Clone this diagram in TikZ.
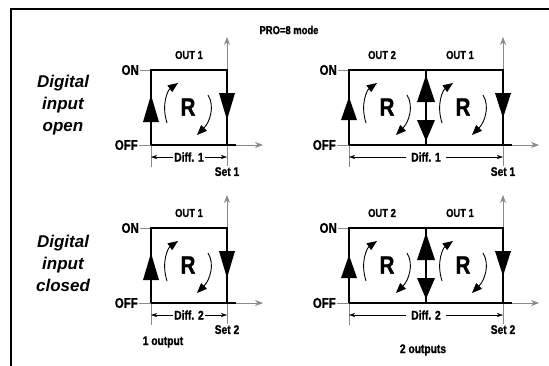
\documentclass[tikz,border=0pt]{standalone}
\usepackage{fontspec}
\setmainfont{Liberation Sans}
\newfontfamily\condfont{Liberation Sans}[FakeStretch=0.82,FakeBold=1.2]
\usetikzlibrary{arrows.meta}
\definecolor{axisgrey}{HTML}{8A8A8A}

\begin{document}
\begin{tikzpicture}[x=1pt,y=-1pt,
  lbl/.style={font=\condfont\bfseries\fontsize{12.5}{13}\selectfont,inner sep=1pt},
  lvl/.style={font=\condfont\bfseries\fontsize{14}{14}\selectfont,anchor=east,inner sep=1pt},
  outlbl/.style={font=\condfont\bfseries\fontsize{11.5}{12}\selectfont},
  rlbl/.style={font=\condfont\bfseries\fontsize{25}{25}\selectfont,inner sep=0pt},
  sidelbl/.style={font=\bfseries\itshape\fontsize{17}{22}\selectfont,align=center},
  axis/.style={axisgrey,line width=0.8pt},
  axarr/.style={axis,-{Stealth[length=8pt,width=6pt]}},
  relay/.style={line width=2.5pt},
  diffarr/.style={thin,-{Stealth[length=6pt,width=4pt]}},
  turn/.style={line width=0.9pt,-{Triangle[length=10pt,width=8pt]}}
]
\useasboundingbox (0,0) rectangle (549,365);

% Frame
\draw[line width=2pt] (11,366) -- (11,9) -- (550,9);
\node[outlbl] (mode) at (289,30) {PRO=8 mode};

% Two rows: input open / input closed
\foreach \dy/\st/\n in {0/open/1,158/closed/2}{
\begin{scope}[yshift=-\dy pt]
  \node[sidelbl] (side\n) at (63,105) {Digital\\input\\\st};

  % --- one output ---
  \node[lvl] (ona\n) at (140,70) {ON};
  \node[lvl] (offa\n) at (139,145) {OFF};
  \draw[axis] (ona\n.east) -- (151,70);
  \draw[axarr] (offa\n.east) -- (263,145);
  \draw[axis] (151,145) -- (151,167);
  \node[lbl,anchor=north] (seta\n) at (227,166) {Set \n};
  \draw[axarr] (seta\n.north) -- (227,37);
  \draw[relay] (151,145) -- (151,70) -- (227,70) -- (227,145);
  \draw[relay] (151,145) -- (236,145);
  \fill (143,122) -- (151,95) -- (159,122) -- cycle;
  \fill (219,93) -- (227,120) -- (235,93) -- cycle;
  \node[outlbl] (outa\n) at (189,55) {OUT 1};
  \node[lbl,fill=white] (diffa\n) at (189,157) {Diff. \n};
  \draw[diffarr] (diffa\n.west) -- (151,157);
  \draw[diffarr] (diffa\n.east) -- (227,157);

  % --- two outputs ---
  \node[lvl] (onb\n) at (338,70) {ON};
  \node[lvl] (offb\n) at (337,145) {OFF};
  \draw[axis] (onb\n.east) -- (349,70);
  \draw[axarr] (offb\n.east) -- (539,145);
  \draw[axis] (349,145) -- (349,167);
  \node[lbl,anchor=north] (setb\n) at (503,166) {Set \n};
  \draw[axarr] (setb\n.north) -- (503,37);
  \draw[relay] (349,145) -- (349,70) -- (503,70) -- (503,145);
  \draw[relay] (349,145) -- (512,145);
  \draw[relay] (426,70) -- (426,145);
  \fill (341,120) -- (349,97) -- (357,120) -- cycle;
  \fill (417,102) -- (426,75) -- (435,102) -- cycle;
  \fill (417,120) -- (426,141) -- (435,120) -- cycle;
  \fill (495,93) -- (503,118) -- (511,93) -- cycle;
  \node[outlbl] (outc\n) at (382,55) {OUT 2};
  \node[outlbl] (outb\n) at (460,55) {OUT 1};
  \node[lbl,fill=white,inner xsep=5pt] (diffb\n) at (426,157) {Diff. \n};
  \draw[diffarr] (diffb\n.west) -- (349,157);
  \draw[diffarr] (diffb\n.east) -- (503,157);

  % R and the turning arrows
  \foreach \rx in {188,387,463}{
    \node[rlbl] at (\rx,107) {R};
    \draw[turn] ({\rx-21},123) .. controls ({\rx-27},104) and ({\rx-20},90) .. ({\rx-10},83);
    \draw[turn] ({\rx+20},95) .. controls ({\rx+27},106) and ({\rx+22},122) .. ({\rx+9},135);
  }
\end{scope}
}

\node[lbl] (one) at (163,342) {1 output};
\node[lbl] (two) at (423,350) {2 outputs};
\end{tikzpicture}
\end{document}
